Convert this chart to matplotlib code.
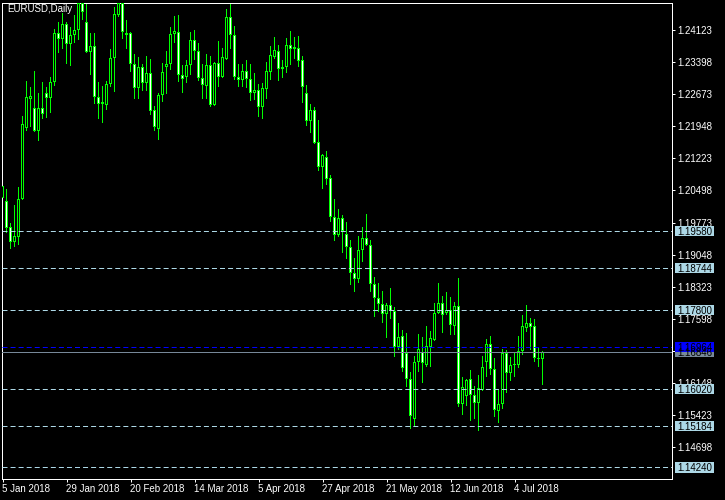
import numpy as np
import matplotlib
matplotlib.use('Agg')
import matplotlib.pyplot as plt
import matplotlib.transforms as mtransforms
from matplotlib.patches import Rectangle

# EURUSD daily candles, 5 Jan 2018 .. 13 Jul 2018 (bar index 0..135)
opens = [1.20328, 1.20260, 1.19673, 1.19334, 1.19447, 1.20306, 1.21910, 1.22565, 1.22361, 1.21842,
         1.22361, 1.22700, 1.22587, 1.22949, 1.24056, 1.23920, 1.24259, 1.23807, 1.24010, 1.24123,
         1.24733, 1.24304, 1.23626, 1.23762, 1.22610, 1.22452, 1.22429, 1.22903, 1.23491, 1.24462,
         1.24733, 1.24010, 1.24056, 1.23355, 1.22813, 1.23288, 1.22926, 1.23152, 1.22316, 1.21887,
         1.22655, 1.23288, 1.23355, 1.24033, 1.24078, 1.23107, 1.23062, 1.23333, 1.23897, 1.23649,
         1.23039, 1.22858, 1.23333, 1.22429, 1.23378, 1.23062, 1.23468, 1.24417, 1.24010, 1.23062,
         1.22994, 1.23197, 1.23016, 1.22700, 1.22768, 1.22384, 1.22791, 1.23175, 1.23513, 1.23649,
         1.23242, 1.23288, 1.23785, 1.23694, 1.23717, 1.23446, 1.22700, 1.22068, 1.22316, 1.21593,
         1.21029, 1.21254, 1.20781, 1.19899, 1.19492, 1.19876, 1.19515, 1.19221, 1.18634, 1.18498,
         1.19154, 1.19425, 1.19266, 1.18385, 1.18069, 1.17934, 1.17708, 1.17911, 1.17776, 1.16962,
         1.17211, 1.16827, 1.16239, 1.15336, 1.16623, 1.16849, 1.16556, 1.16962, 1.17120, 1.17730,
         1.17956, 1.17730, 1.17798, 1.17437, 1.17889, 1.15675, 1.15855, 1.16239, 1.15878, 1.15697,
         1.15991, 1.16623, 1.17030, 1.16465, 1.15517, 1.15675, 1.16827, 1.16375, 1.16556, 1.16556,
         1.16872, 1.17392, 1.17504, 1.17437, 1.16714, 1.16691]
highs = [1.20667, 1.20532, 1.19763, 1.20170, 1.20577, 1.22181, 1.22971, 1.22836, 1.23197, 1.22700,
         1.22949, 1.22836, 1.23062, 1.24146, 1.24304, 1.24507, 1.24304, 1.24191, 1.24462, 1.24891,
         1.24846, 1.24756, 1.24056, 1.24056, 1.22949, 1.22858, 1.22971, 1.23694, 1.24643, 1.24869,
         1.24824, 1.24349, 1.24078, 1.23581, 1.23513, 1.23355, 1.23536, 1.23468, 1.22406, 1.22700,
         1.23378, 1.23649, 1.24191, 1.24440, 1.24462, 1.23333, 1.23446, 1.24078, 1.24123, 1.23830,
         1.23355, 1.23581, 1.23536, 1.23400, 1.23875, 1.23717, 1.24598, 1.24778, 1.24214, 1.23355,
         1.23355, 1.23446, 1.23355, 1.23152, 1.22903, 1.22926, 1.23400, 1.23762, 1.23965, 1.23785,
         1.23446, 1.23943, 1.24101, 1.23965, 1.23988, 1.23536, 1.22881, 1.22452, 1.22384, 1.22090,
         1.21322, 1.21390, 1.20848, 1.20306, 1.20080, 1.19944, 1.19786, 1.19379, 1.18973, 1.19470,
         1.19673, 1.19967, 1.19379, 1.18544, 1.18408, 1.18227, 1.17956, 1.18295, 1.17866, 1.17504,
         1.17346, 1.17279, 1.16398, 1.16759, 1.17256, 1.17188, 1.17437, 1.17324, 1.17956, 1.18408,
         1.18114, 1.18205, 1.18092, 1.17979, 1.18521, 1.16285, 1.16239, 1.16443, 1.16081, 1.16330,
         1.16759, 1.17143, 1.17211, 1.16714, 1.16013, 1.16917, 1.16895, 1.16736, 1.16827, 1.17211,
         1.17685, 1.17911, 1.17617, 1.17595, 1.16940, 1.16872]
lows = [1.20283, 1.19538, 1.19176, 1.19221, 1.19266, 1.20283, 1.21842, 1.21932, 1.21819, 1.21616,
        1.22113, 1.22136, 1.22248, 1.22858, 1.23604, 1.23694, 1.23355, 1.23310, 1.23830, 1.23897,
        1.24349, 1.23604, 1.23107, 1.22452, 1.22113, 1.22023, 1.22316, 1.22836, 1.22723, 1.24417,
        1.23920, 1.23694, 1.23175, 1.22565, 1.22565, 1.22745, 1.22745, 1.22203, 1.21842, 1.21638,
        1.22497, 1.22678, 1.23220, 1.23830, 1.22949, 1.22700, 1.22926, 1.23107, 1.23446, 1.22971,
        1.22565, 1.22565, 1.22384, 1.22406, 1.22836, 1.23039, 1.23446, 1.23694, 1.22994, 1.22836,
        1.22836, 1.22813, 1.22519, 1.22542, 1.22158, 1.22113, 1.22565, 1.22994, 1.23468, 1.22971,
        1.23039, 1.23152, 1.23333, 1.23468, 1.23288, 1.22474, 1.21955, 1.21797, 1.21548, 1.20938,
        1.20532, 1.20622, 1.19786, 1.19357, 1.19447, 1.19086, 1.18950, 1.18363, 1.18205, 1.18408,
        1.18882, 1.19244, 1.18205, 1.17640, 1.17753, 1.17504, 1.17166, 1.17595, 1.16736, 1.16895,
        1.16398, 1.16059, 1.15110, 1.15178, 1.16398, 1.16149, 1.16511, 1.16511, 1.17098, 1.17708,
        1.17279, 1.17685, 1.17233, 1.17233, 1.15607, 1.15426, 1.15630, 1.15291, 1.15336, 1.15065,
        1.15968, 1.16285, 1.16330, 1.15381, 1.15245, 1.15562, 1.15923, 1.16194, 1.16285, 1.16488,
        1.16782, 1.17301, 1.16895, 1.16623, 1.16511, 1.16104]
closes = [1.20600, 1.19650, 1.19334, 1.19470, 1.20306, 1.22000, 1.22610, 1.22632, 1.21842, 1.22361,
          1.22226, 1.22587, 1.22949, 1.24056, 1.23920, 1.24259, 1.23807, 1.24010, 1.24123, 1.24733,
          1.24530, 1.23626, 1.23762, 1.22610, 1.22452, 1.22497, 1.22903, 1.23491, 1.24485, 1.24733,
          1.24078, 1.24056, 1.23355, 1.22813, 1.23288, 1.22926, 1.23152, 1.22294, 1.21932, 1.22655,
          1.23175, 1.23355, 1.24033, 1.24101, 1.23107, 1.23016, 1.23333, 1.23897, 1.23649, 1.23039,
          1.22881, 1.23333, 1.22429, 1.23378, 1.23062, 1.23513, 1.24417, 1.24010, 1.23062, 1.22994,
          1.23197, 1.23016, 1.22700, 1.22768, 1.22384, 1.22813, 1.23197, 1.23559, 1.23671, 1.23242,
          1.23288, 1.23785, 1.23694, 1.23739, 1.23423, 1.22836, 1.22068, 1.22316, 1.21571, 1.21029,
          1.21300, 1.20757, 1.19899, 1.19492, 1.19876, 1.19583, 1.19221, 1.18634, 1.18498, 1.19154,
          1.19425, 1.19266, 1.18385, 1.18069, 1.17934, 1.17708, 1.17911, 1.17776, 1.16962, 1.17188,
          1.16488, 1.16239, 1.15404, 1.16623, 1.16917, 1.16601, 1.16985, 1.17166, 1.17730, 1.17956,
          1.17685, 1.17798, 1.17459, 1.17889, 1.15675, 1.16059, 1.16217, 1.15878, 1.15697, 1.16036,
          1.16511, 1.17030, 1.16465, 1.15539, 1.15675, 1.16827, 1.16375, 1.16556, 1.16556, 1.16872,
          1.17437, 1.17504, 1.17414, 1.16714, 1.16691, 1.16846]

date_pos = [0, 16, 32, 48, 64, 80, 96, 112, 128]
date_labels = ['5 Jan 2018', '29 Jan 2018', '20 Feb 2018', '14 Mar 2018', '5 Apr 2018',
               '27 Apr 2018', '21 May 2018', '12 Jun 2018', '4 Jul 2018']
price_ticks = ['1.14698', '1.15423', '1.16148', '1.16873', '1.17598', '1.18323', '1.19048',
               '1.19773', '1.20498', '1.21223', '1.21948', '1.22673', '1.23398', '1.24123']
levels = [1.19580, 1.18744, 1.17800, 1.16020, 1.15184, 1.14240]
blue_level = 1.16964
bid = 1.16846

plt.rcParams['font.family'] = ['Liberation Sans', 'DejaVu Sans']
plt.rcParams['lines.scale_dashes'] = False

W, H = 725, 500
L, R, T, B = 2, 672, 2.5, 479
fig = plt.figure(figsize=(W / 100, H / 100), dpi=100, facecolor='black')
ax = fig.add_axes([L / W, (H - B) / H, (R - L) / W, (B - T) / H], facecolor='black')
ymin, ymax = 1.13980, 1.24745
xmin = -0.125
ax.set_xlim(xmin, xmin + (R - L) / 4)
ax.set_ylim(ymin, ymax)
px = (ymax - ymin) / (B - T)   # one pixel in price units

lime = '#00ff00'
onepx = 0.72
x = np.arange(len(opens))
o = np.array(opens)
c = np.array(closes)
hi = np.array(highs)
lo = np.array(lows)
bull = c >= o
body_lo = np.minimum(o, c)
body_h = np.maximum(np.abs(c - o), px)

# wick: 1px column, body: 3px lime block with 1px fill inside
ax.bar(x, hi - lo, bottom=lo, width=0.25, color=lime, linewidth=0, zorder=2)
ax.bar(x, body_h, bottom=body_lo, width=0.75, color=lime, linewidth=0, zorder=3)
inner = body_h > 2 * px
ax.bar(x[inner], body_h[inner] - 2 * px, bottom=body_lo[inner] + px, width=0.25,
       color=['black' if b else 'white' for b in bull[inner]], linewidth=0, zorder=3.5)

for lv in levels:
    ax.axhline(lv, color='#add8e6', lw=onepx, dashes=(3.6, 2.2), zorder=4)
ax.axhline(bid, color='#778899', lw=onepx, zorder=4)
ax.axhline(blue_level, color='#0000ff', lw=onepx, dashes=(3.6, 2.2), zorder=4)

# price tags on the right scale
trans = mtransforms.blended_transform_factory(fig.transFigure, ax.transData)


def tag(val, face):
    ax.add_patch(Rectangle((675 / W, val - 5.2 * px), 39 / W, 10.4 * px, transform=trans,
                           facecolor=face, edgecolor='none', clip_on=False, zorder=10))
    ax.text(677 / W, val, f'{val:.5f}', transform=trans, color='black', fontsize=7,
            va='center_baseline', ha='left', zorder=11, clip_on=False)


for lv in levels:
    tag(lv, '#add8e6')
tag(bid, '#778899')
tag(blue_level, '#0000ff')

ax.yaxis.tick_right()
ax.set_yticks([float(t) for t in price_ticks])
# the 1.16873 label sits under the bid/level tags
ax.set_yticklabels(['' if t == '1.16873' else t for t in price_ticks])
ax.tick_params(axis='y', colors='white', length=2.2, width=onepx, pad=1.5, labelsize=7)
ax.set_xticks(date_pos)
ax.set_xticklabels(date_labels, ha='left')
ax.tick_params(axis='x', colors='white', length=2.2, width=onepx, pad=1.5, labelsize=7)
for s in ax.spines.values():
    s.set_color('white')
    s.set_linewidth(onepx)

fig.text(7 / W, 1 - 4.5 / H, 'EURUSD,Daily', color='white', fontsize=7, va='top', ha='left')

fig.savefig('out.png', dpi=100, facecolor='black')
